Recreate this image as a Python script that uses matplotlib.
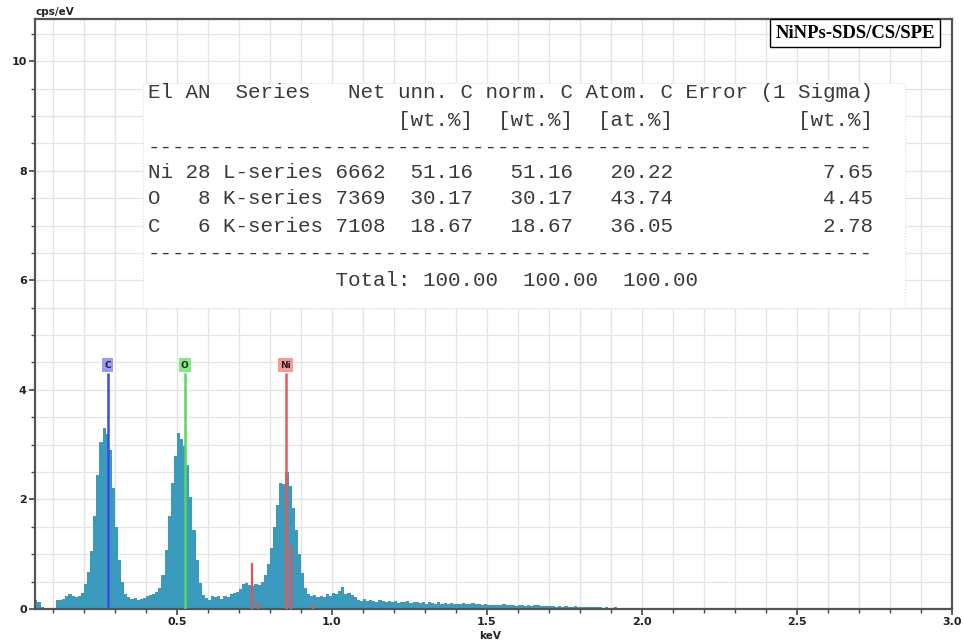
import numpy as np
import matplotlib.pyplot as plt
from matplotlib.patches import Rectangle

# EDS spectrum, channel counts (cps/eV), 0.01 keV channels
e_start = 0.045
e_step = 0.01
counts = [
    0.16, 0.12, 0.04, 0.02, 0.02, 0.01, 0.01, 0.16, 0.17, 0.19,
    0.24, 0.27, 0.24, 0.21, 0.24, 0.30, 0.45, 0.68, 1.05, 1.70,
    2.45, 3.05, 3.30, 3.20, 2.90, 2.20, 1.50, 0.90, 0.50, 0.28,
    0.21, 0.18, 0.20, 0.16, 0.19, 0.20, 0.24, 0.26, 0.27, 0.31,
    0.38, 0.62, 1.08, 1.69, 2.30, 2.80, 3.22, 3.10, 2.98, 2.62,
    2.05, 1.45, 0.90, 0.48, 0.26, 0.20, 0.17, 0.24, 0.22, 0.23,
    0.19, 0.24, 0.22, 0.27, 0.29, 0.31, 0.36, 0.45, 0.47, 0.44,
    0.42, 0.46, 0.44, 0.50, 0.62, 0.83, 1.12, 1.50, 1.90, 2.30,
    2.28, 2.50, 2.25, 1.85, 1.45, 1.00, 0.65, 0.38, 0.27, 0.24,
    0.26, 0.21, 0.23, 0.22, 0.27, 0.24, 0.30, 0.28, 0.32, 0.40,
    0.27, 0.30, 0.25, 0.22, 0.17, 0.15, 0.18, 0.14, 0.16, 0.15,
    0.13, 0.17, 0.14, 0.12, 0.14, 0.12, 0.15, 0.11, 0.13, 0.12,
    0.14, 0.11, 0.12, 0.13, 0.11, 0.12, 0.10, 0.12, 0.11, 0.10,
    0.12, 0.10, 0.11, 0.09, 0.11, 0.10, 0.09, 0.10, 0.11, 0.10,
    0.09, 0.11, 0.10, 0.09, 0.08, 0.09, 0.07, 0.08, 0.07, 0.08,
    0.07, 0.09, 0.07, 0.08, 0.07, 0.06, 0.07, 0.08, 0.06, 0.07,
    0.06, 0.07, 0.08, 0.06, 0.05, 0.06, 0.05, 0.05, 0.04, 0.05,
    0.04, 0.05, 0.04, 0.04, 0.05, 0.04, 0.03, 0.04, 0.03, 0.03,
    0.04, 0.03, 0.03, 0.02, 0.03, 0.02, 0.02, 0.03, 0.02, 0.02,
    0.02, 0.02, 0.01, 0.02, 0.01, 0.01, 0.01, 0.01, 0.01, 0.01,
    0.01, 0.00,
]
energy = e_start + e_step * np.arange(len(counts))

# element marker lines
elements = ["C", "O", "Ni"]
element_kev = [0.277, 0.525, 0.851]
element_colors = ["#3a4fd8", "#5ad85a", "#e65a5a"]
label_colors = ["#9a9af2", "#86e886", "#f59a9a"]
marker_top = 4.31

# minor Ni L lines
ni_minor_kev = [0.743, 0.762, 0.868, 0.940]
ni_minor_h = [0.84, 0.12, 1.17, 0.10]

header = "El AN  Series   Net unn. C norm. C Atom. C Error (1 Sigma)"
units = "                    [wt.%]  [wt.%]  [at.%]          [wt.%]"
rows = [
    "Ni 28 L-series 6662  51.16   51.16   20.22            7.65",
    "O   8 K-series 7369  30.17   30.17   43.74            4.45",
    "C   6 K-series 7108  18.67   18.67   36.05            2.78",
]
total = "               Total: 100.00  100.00  100.00"
dashes = "-" * 58

W, H = 963, 643
fig = plt.figure(figsize=(W / 100, H / 100), dpi=100)
ax = fig.add_axes([35 / W, 1 - 609 / H, (952 - 35) / W, (609 - 19) / H])

ax.fill_between(energy, counts, step="mid", color="#3a9bbf", lw=0, zorder=2)

for el, k, c, lc in zip(elements, element_kev, element_colors, label_colors):
    ax.vlines(k, 0, marker_top, color=c, lw=1.8, zorder=3)
    ax.text(k, 4.45, el, ha="center", va="center", fontsize=6.5, fontweight="bold",
            color="#222222", zorder=4,
            bbox=dict(boxstyle="square,pad=0.25", fc=lc, ec="none"))
ax.vlines(ni_minor_kev, 0, ni_minor_h, color="#e05555", lw=1.6, zorder=3)

ax.set_xlim(0.042, 3.0)
ax.set_ylim(0, 10.77)
ax.set_xticks([0.5, 1.0, 1.5, 2.0, 2.5, 3.0])
ax.set_xticks(np.arange(0.1, 3.0, 0.1), minor=True)
ax.set_yticks([0, 2, 4, 6, 8, 10])
ax.set_yticks(np.arange(0.5, 10.6, 0.5), minor=True)
ax.xaxis.set_major_formatter(plt.FormatStrFormatter("%.1f"))
ax.grid(True, which="both", color="#e4e4e4", lw=0.9, zorder=0)
ax.set_axisbelow(True)
ax.tick_params(which="major", length=4, width=1.2, color="#444444", labelsize=8, pad=2)
ax.tick_params(which="minor", length=3, width=1.0, color="#444444")
for lab in ax.get_xticklabels() + ax.get_yticklabels():
    lab.set_fontweight("bold")
    lab.set_color("#222222")
for s in ax.spines.values():
    s.set_color("#555555")
    s.set_linewidth(1.6)

fig.text(35 / W, 1 - 12 / H, "cps/eV", fontsize=7.5, fontweight="bold",
         ha="left", va="center", color="#222222")
fig.text(490 / W, 1 - 636 / H, "keV", fontsize=7.5, fontweight="bold",
         ha="center", va="center", color="#222222")

# quantification table
ax.add_patch(Rectangle(((143 - 35) / 917, (609 - 308) / 590), (905 - 143) / 917,
                       (308 - 83) / 590, transform=ax.transAxes, fc="white",
                       ec="#dddddd", lw=0.8, ls=":", zorder=5))
lines = [header, units, dashes] + rows + [dashes, total]
ys = [93, 121, 147, 173, 199, 226, 253, 280]
for txt, y in zip(lines, ys):
    fig.text(148 / W, 1 - y / H, txt, family="Liberation Mono", fontsize=15,
             color="#3a3a3a", ha="left", va="center", zorder=6)

fig.text(855 / W, 1 - 33 / H, "NiNPs-SDS/CS/SPE", family="Liberation Serif",
         fontsize=13.5, fontweight="bold", ha="center", va="center", zorder=7,
         bbox=dict(boxstyle="square,pad=0.3", fc="white", ec="black", lw=1))

fig.savefig("out.png", dpi=100)
